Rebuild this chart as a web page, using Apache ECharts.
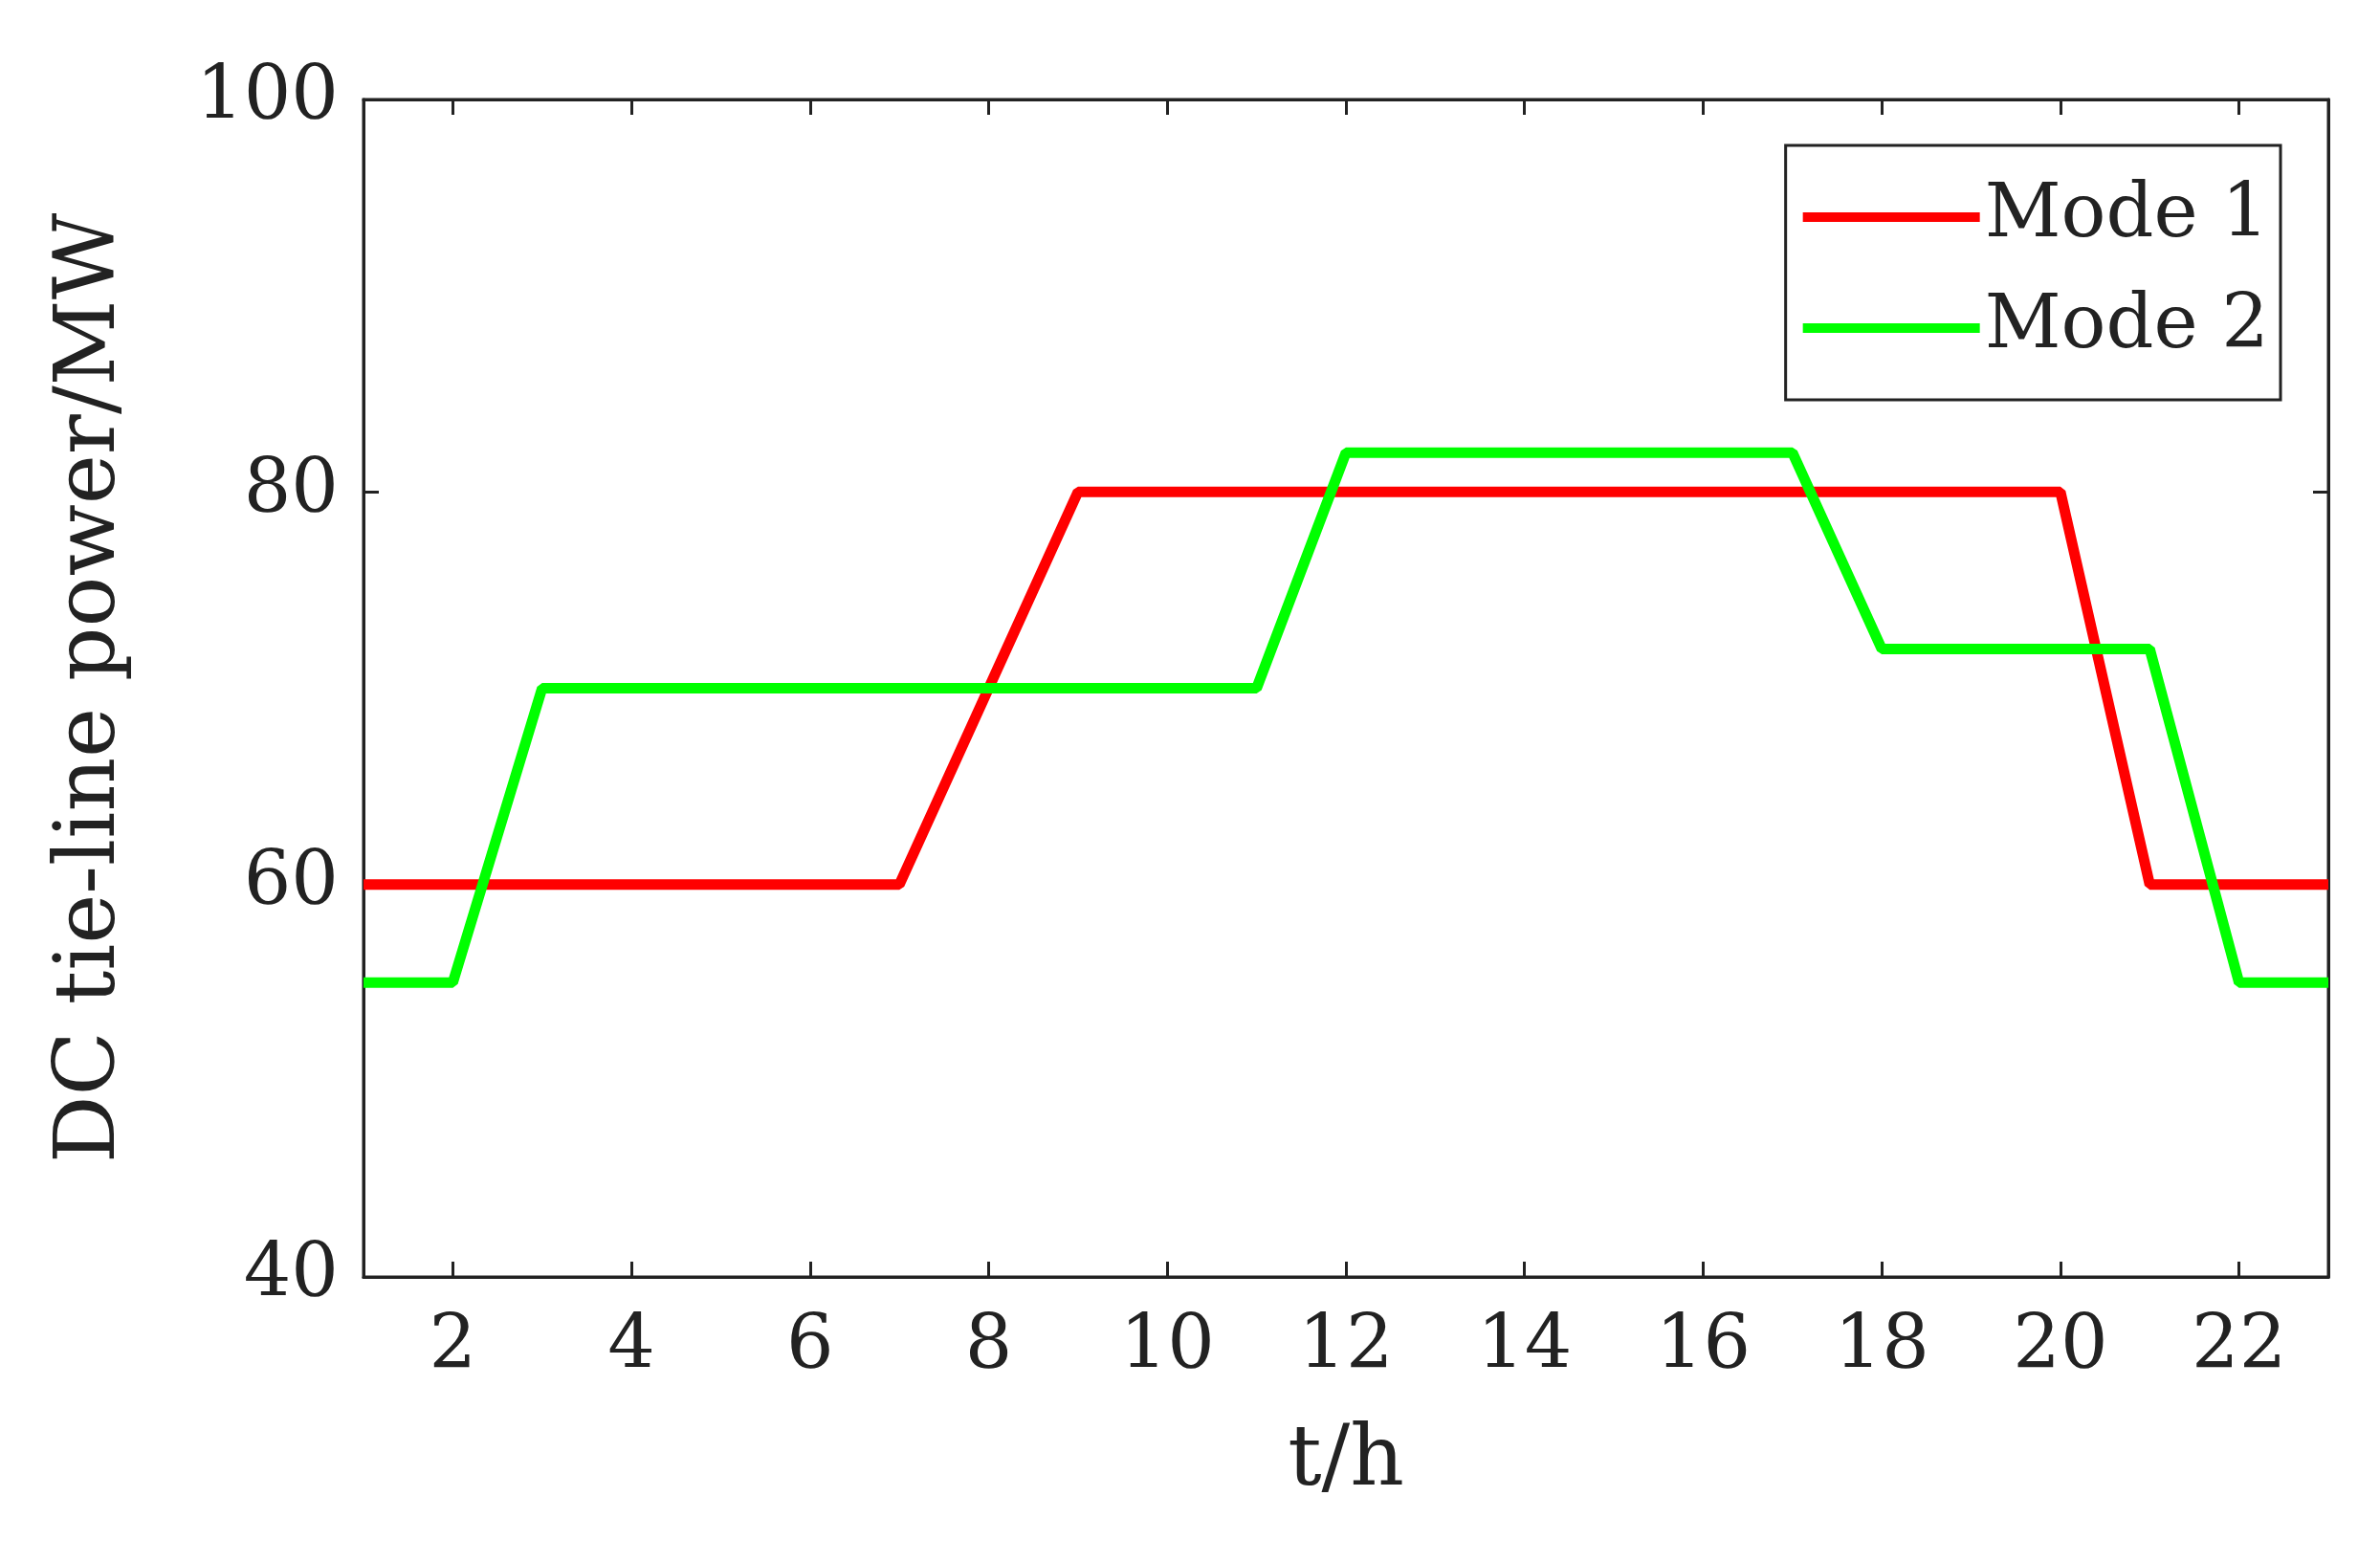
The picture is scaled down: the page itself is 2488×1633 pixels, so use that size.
<!DOCTYPE html>
<html><head><meta charset="utf-8">
<script src="https://cdn.jsdelivr.net/npm/echarts@6/dist/echarts.min.js"></script>
<style>html,body{margin:0;background:#fff}#c{width:2488px;height:1633px}</style>
</head><body><div id="c"></div>
<script>
// hours and tie-line power per mode
const hours = [1,2,3,4,5,6,7,8,9,10,11,12,13,14,15,16,17,18,19,20,21,22,23];
const mode1 = [60,60,60,60,60,60,60,70,80,80,80,80,80,80,80,80,80,80,80,80,60,60,60];
const mode2 = [55,55,70,70,70,70,70,70,70,70,70,82,82,82,82,82,82,72,72,72,72,55,55];
const xTicks = [2,4,6,8,10,12,14,16,18,20,22];

const font = 'DejaVu Serif';
const txt = {color: '#222', fontFamily: font, fontSize: 78};
const pair = arr => hours.map((h, i) => [h, arr[i]]);

let chart = echarts.init(document.getElementById('c'));
chart.setOption({
    animation: false,
    grid: {left: 380, right: 54, top: 104, bottom: 298, show: true, borderColor: '#222', borderWidth: 3},
    legend: {
        right: 104, top: 152, orient: 'vertical', itemWidth: 185, itemHeight: 10, itemGap: 38,
        padding: [36, 12, 36, 18], borderColor: '#222', borderWidth: 3,
        textStyle: Object.assign({}, txt, {fontSize: 78}),
        icon: 'rect', data: ['Mode 1', 'Mode 2']
    },
    xAxis: [{
        type: 'value', min: 1, max: 23,
        name: 't/h', nameLocation: 'middle', nameGap: 150, nameTextStyle: Object.assign({}, txt, {fontSize: 88}),
        axisLine: {lineStyle: {color: '#222', width: 3}},
        axisTick: {inside: true, length: 16, lineStyle: {width: 3}, customValues: xTicks},
        axisLabel: Object.assign({margin: 36, customValues: xTicks}, txt),
        splitLine: {show: false}
    }, {
        type: 'value', min: 1, max: 23, position: 'top',
        axisLine: {lineStyle: {color: '#222', width: 3}},
        axisTick: {inside: true, length: 16, lineStyle: {width: 3}, customValues: xTicks},
        axisLabel: {show: false}, splitLine: {show: false}
    }],
    yAxis: [{
        type: 'value', min: 40, max: 100, interval: 20,
        name: 'DC tie-line power/MW', nameLocation: 'middle', nameGap: 240,
        nameTextStyle: Object.assign({}, txt, {fontSize: 88}),
        axisLine: {show: true, lineStyle: {color: '#222', width: 3}},
        axisTick: {show: true, inside: true, length: 16, lineStyle: {width: 3}},
        axisLabel: Object.assign({margin: 26}, txt),
        splitLine: {show: false}
    }, {
        type: 'value', min: 40, max: 100, interval: 20, position: 'right',
        axisLine: {show: true, lineStyle: {color: '#222', width: 3}},
        axisTick: {show: true, inside: true, length: 16, lineStyle: {width: 3}},
        axisLabel: {show: false}, splitLine: {show: false}
    }],
    series: [
        {name: 'Mode 1', type: 'line', data: pair(mode1), showSymbol: false, color: '#ff0000', lineStyle: {width: 11}},
        {name: 'Mode 2', type: 'line', data: pair(mode2), showSymbol: false, color: '#00ff00', lineStyle: {width: 11}}
    ]
});
</script></body></html>
